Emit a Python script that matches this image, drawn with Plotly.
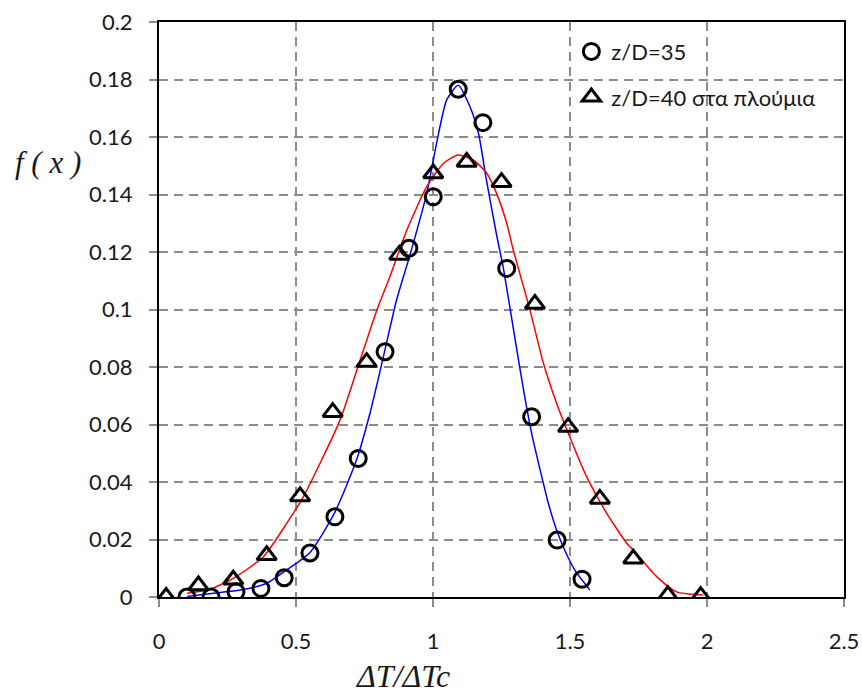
import plotly.graph_objects as go

# ---- data ----
circ_x = [0.102, 0.190, 0.281, 0.372, 0.457, 0.551, 0.642, 0.727, 0.825, 0.912,
          1.001, 1.092, 1.182, 1.269, 1.360, 1.453, 1.544]
circ_y = [0.000, 0.000, 0.0018, 0.0030, 0.0067, 0.0153, 0.0279, 0.0482, 0.0853, 0.1213,
          0.1392, 0.1766, 0.1650, 0.1143, 0.0627, 0.0198, 0.0062]

tri_x = [0.026, 0.144, 0.271, 0.393, 0.515, 0.634, 0.758, 0.877, 1.001, 1.123,
         1.250, 1.372, 1.493, 1.609, 1.731, 1.857, 1.977]
tri_y = [0.000, 0.004, 0.006, 0.0145, 0.035, 0.0643, 0.0817, 0.119, 0.1473, 0.1513,
         0.1443, 0.1019, 0.0591, 0.0341, 0.0133, 0.0006, 0.0003]

blue_x = [0.103, 0.198, 0.296, 0.393, 0.457, 0.551, 0.642, 0.721, 0.770, 0.819,
          0.867, 0.916, 0.977, 1.013, 1.050, 1.092, 1.135, 1.166, 1.195, 1.232,
          1.257, 1.311, 1.336, 1.360, 1.391, 1.421, 1.451, 1.482, 1.520, 1.573]
blue_y = [0.0002, 0.0013, 0.0024, 0.0048, 0.0088, 0.0155, 0.0295, 0.0477, 0.0639, 0.0836,
          0.1033, 0.1190, 0.1404, 0.1578, 0.1729, 0.1780, 0.1705, 0.1613, 0.1450, 0.1260,
          0.1143, 0.0830, 0.0690, 0.0569, 0.0442, 0.0326, 0.0233, 0.0160, 0.0090, 0.0024]

red_x = [0.103, 0.186, 0.271, 0.381, 0.466, 0.527, 0.661, 0.734, 0.794, 0.843,
         0.904, 0.977, 1.038, 1.092, 1.147, 1.196, 1.232, 1.269, 1.293, 1.354,
         1.403, 1.451, 1.494, 1.561, 1.634, 1.707, 1.731, 1.816, 1.889, 1.986]
red_y = [0.0013, 0.0027, 0.0065, 0.0140, 0.0256, 0.0349, 0.0616, 0.0824, 0.0995, 0.1115,
         0.1275, 0.1427, 0.1508, 0.1537, 0.1520, 0.1474, 0.1404, 0.1300, 0.1207, 0.0998,
         0.0813, 0.0674, 0.0569, 0.0418, 0.0291, 0.0187, 0.0163, 0.0071, 0.0018, 0.0007]

x_ticks = [0, 0.5, 1, 1.5, 2, 2.5]
x_ticktext = ["0", "0.5", "1", "1.5", "2", "2.5"]
y_ticks = [0, 0.02, 0.04, 0.06, 0.08, 0.1, 0.12, 0.14, 0.16, 0.18, 0.2]
y_ticktext = ["0", "0.02", "0.04", "0.06", "0.08", "0.1", "0.12", "0.14", "0.16", "0.18", "0.2"]

name_35 = "z/D=35"
name_40 = "z/D=40 στα πλούμια"
x_title = "ΔT/ΔTc"
y_title = "f ( x )"

fig = go.Figure()
fig.add_trace(go.Scatter(x=blue_x, y=blue_y, mode="lines", showlegend=False,
                         line=dict(color="#0000FF", width=1.5, shape="spline", smoothing=0.6),
                         hoverinfo="skip"))
fig.add_trace(go.Scatter(x=red_x, y=red_y, mode="lines", showlegend=False,
                         line=dict(color="#FF0000", width=1.5, shape="spline", smoothing=0.6),
                         hoverinfo="skip"))
fig.add_trace(go.Scatter(x=circ_x, y=circ_y, mode="markers", name=name_35, legendgroup="a",
                         marker=dict(symbol="circle-open", size=16, color="black",
                                     line=dict(color="black", width=3))))
fig.add_trace(go.Scatter(x=tri_x, y=tri_y, mode="markers", name=name_40, legendgroup="b",
                         marker=dict(symbol="triangle-up-open", size=17, color="black",
                                     line=dict(color="black", width=3))))

tickfont = dict(family="Lato", size=22, color="#1a1a1a")
common = dict(showline=True, linecolor="black", linewidth=2, mirror=True,
              ticks="outside", ticklen=8, tickwidth=2, tickcolor="#8c8c8c",
              showgrid=True, gridcolor="#8c8c8c", gridwidth=1.5, griddash="9px,6px",
              zeroline=False, tickfont=tickfont, automargin=False)

fig.update_xaxes(range=[0, 2.5], tickvals=x_ticks, ticktext=x_ticktext,
                 ticklabelstandoff=16, **common)
fig.update_yaxes(range=[0, 0.2], tickvals=y_ticks, ticktext=y_ticktext,
                 ticklabelstandoff=12, **common)

fig.update_layout(
    width=862, height=693,
    margin=dict(l=159, r=18, t=22, b=96, pad=0, autoexpand=False),
    plot_bgcolor="white", paper_bgcolor="white",
    showlegend=True,
    legend=dict(x=0.602, y=0.985, xanchor="left", yanchor="top",
                bgcolor="rgba(255,255,255,0)", borderwidth=0,
                font=dict(family="Lato", size=22, color="#1a1a1a"),
                traceorder="grouped", tracegroupgap=14, itemwidth=30),
    annotations=[
        dict(text="<i>" + x_title + "</i>", xref="paper", yref="paper",
             x=(402 - 159) / 685, y=-(676 - 597) / 575, xanchor="center", yanchor="middle",
             showarrow=False,
             font=dict(family="Liberation Serif", size=32, color="#1a1a1a")),
        dict(text="<i>" + y_title + "</i>", xref="paper", yref="paper",
             x=-(159 - 48) / 685, y=(597 - 162) / 575, xanchor="center", yanchor="middle",
             showarrow=False,
             font=dict(family="Liberation Serif", size=31, color="#1a1a1a")),
    ],
)

fig.write_html("out.html")
